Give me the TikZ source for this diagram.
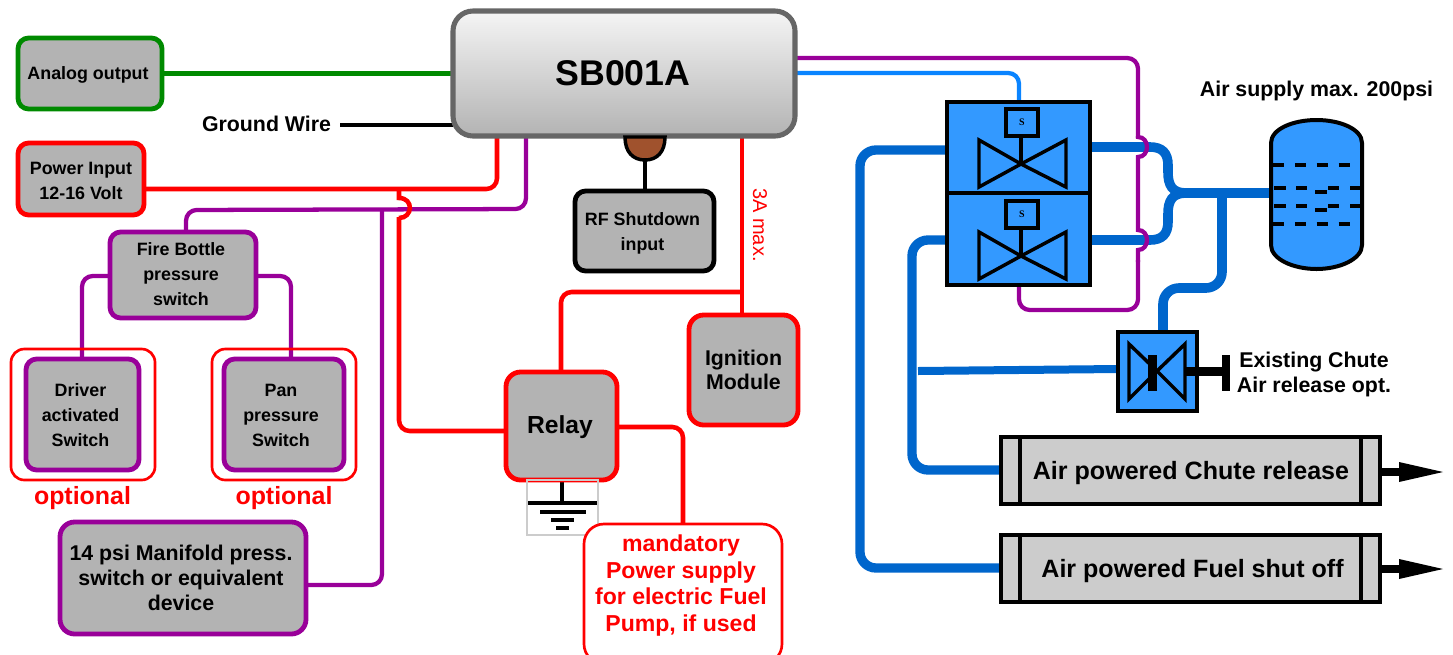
\documentclass[tikz,border=0pt]{standalone}
\usepackage{fontspec}
\setmainfont{Liberation Sans}
\newfontfamily\serifS{Liberation Serif}
\usetikzlibrary{backgrounds,arrows.meta,calc}
\definecolor{boxgray}{HTML}{B3B3B3}
\definecolor{lightgray2}{HTML}{CCCCCC}
\definecolor{wred}{HTML}{FF0000}
\definecolor{wpurple}{HTML}{990099}
\definecolor{wgreen}{HTML}{008A00}
\definecolor{airblue}{HTML}{0066CC}
\definecolor{sigblue}{HTML}{0A84FF}
\definecolor{valveblue}{HTML}{3399FF}
\definecolor{strokegray}{HTML}{666666}
\definecolor{brownc}{HTML}{A0522D}
\newcommand{\BX}[7]{\node[#2,minimum width={(#5-#3)*0.75pt},minimum height={(#6-#4)*0.75pt}] (#1) at ({(#3+#5)/2},{(#4+#6)/2}) {#7};}
\newcommand{\fsz}[2]{\fontsize{#1}{#2}\selectfont\bfseries}
\newcommand{\TX}[6]{\node[boxtext,font=\fsz{#4}{#5}] (#1-text) at ($(#1)+(#2,#3)$) {#6};}
\tikzset{
  base/.style={draw,inner sep=0pt,outer sep=0pt,align=center,text=black},
  boxtext/.style={inner sep=0pt,outer sep=0pt,align=center,text=black},
  gbox/.style={base,fill=boxgray,rounded corners=8pt,line width=3.6pt},
  redbox/.style={gbox,draw=wred},
  purplebox/.style={gbox,draw=wpurple},
  greenbox/.style={gbox,draw=wgreen},
  blackbox/.style={gbox,draw=black},
  thinred/.style={base,draw=wred,line width=2pt,rounded corners=10pt},
  mainbox/.style={base,draw=strokegray,line width=3.8pt,rounded corners=15pt,top color=white!96!black,bottom color=boxgray},
  valvebox/.style={base,fill=valveblue,draw=black,line width=3pt},
  sbox/.style={base,fill=valveblue,draw=black,line width=2.6pt,font=\serifS\fsz{7.5}{8}},
  cyl/.style={base,fill=lightgray2,draw=black,line width=2.6pt},
  lbl/.style={inner sep=0pt,outer sep=0pt,align=center,text=black,font=\fsz{16}{18.75}},
  redw/.style={draw=wred,line width=3.4pt,rounded corners=8pt},
  purw/.style={draw=wpurple,line width=3.2pt,rounded corners=8pt},
  grnw/.style={draw=wgreen,line width=3.4pt},
  blkw/.style={draw=black,line width=3.4pt},
  airw/.style={draw=airblue,line width=7.2pt,rounded corners=12pt},
  sigw/.style={draw=sigblue,line width=3.2pt,rounded corners=8pt},
  sym/.style={draw=black,line width=2.6pt,line join=miter},
}
\begin{document}
\begin{tikzpicture}[x=0.75pt,y=-0.75pt]
\clip (0,0) rectangle (1453,654);

% ---- boxes
\BX{sb}{mainbox}{453}{11}{795}{136}{}
\TX{sb}{-1}{0}{26.8}{30}{SB001A}
\BX{analog}{greenbox}{18}{38}{162}{109}{}
\TX{analog}{-2}{1}{13.4}{18.75}{Analog output}
\BX{power}{redbox}{18}{143}{144}{215}{}
\TX{power}{0}{2}{13.4}{18.75}{Power Input\\12-16 Volt}
\BX{fire}{purplebox}{110}{232}{256}{318}{}
\TX{fire}{-2}{-1}{13.4}{18.75}{Fire Bottle\\pressure\\switch}
\BX{drvout}{thinred}{11}{349}{155}{480}{}
\BX{panout}{thinred}{212}{349}{356}{480}{}
\BX{drv}{purplebox}{26}{359}{139}{470}{}
\TX{drv}{-2}{1}{13.4}{18.75}{Driver\\activated\\Switch}
\BX{pan}{purplebox}{224}{359}{344}{470}{}
\TX{pan}{-3}{1}{13.4}{18.75}{Pan\\pressure\\Switch}
\BX{mani}{purplebox,rounded corners=11pt}{60}{522}{306}{634}{}
\TX{mani}{-2}{0}{16}{18.75}{14 psi Manifold press.\\switch or equivalent\\device}
\BX{rf}{blackbox}{575}{191}{714}{271}{}
\TX{rf}{-2}{2}{13.4}{18.75}{RF Shutdown\\input}
\BX{relay}{redbox,rounded corners=11pt}{506}{372}{617}{480}{}
\TX{relay}{-1.5}{1}{18.5}{22}{Relay}
\BX{ign}{redbox,rounded corners=11pt}{689}{315}{798}{425}{}
\TX{ign}{0}{-0.5}{16}{18}{Ignition\\Module}
\BX{gnd}{base,draw=black!20,line width=.8pt}{527}{480}{598}{535}{}
\BX{pumpbox}{thinred,fill=white,rounded corners=15pt}{584}{524}{782}{664}{}
\node[boxtext,text=wred,font=\fsz{17.3}{20}] (pumptxt) at (681,585.5) {mandatory\\Power supply\\for electric Fuel\\Pump, if used};

\node[lbl,text=wred,font=\fsz{18.7}{22}] (opt1) at (82.5,498) {optional};
\node[lbl,text=wred,font=\fsz{18.7}{22}] (opt2) at (284,498) {optional};
\node[lbl,anchor=east] (gw) at (331,124) {Ground Wire};
\node[inner sep=0pt,rotate=-90,text=wred,font=\fontsize{15}{18}\selectfont] (amax) at (760,225) {3A max.};
\node[lbl] (airtxt) at (1316.5,91) {Air supply max. 200psi};
\node[lbl] (exist) at (1314,374.5) {Existing Chute\\Air release opt.};

% brown RF connector
\draw[draw=black,line width=2.6pt,fill=brownc] (625,137) .. controls (625,152) and (633,160) .. (645,160) .. controls (657,160) and (665,152) .. (665,137) -- cycle;
\coordinate (rfcap) at (645,160);

% valves
\BX{va}{valvebox}{947}{102}{1090}{193}{}
\BX{vb}{valvebox}{947}{193}{1090}{285}{}
\BX{sa}{sbox}{1006}{109}{1038}{136}{S}
\BX{sb2}{sbox}{1006}{201}{1038}{228}{S}
\draw[sym] (sa.south -| 1021,0) -- (1021,164);
\draw[sym] (1021,164) -- (979,140) -- (979,187) -- cycle;
\draw[sym] (1021,164) -- (1066,140) -- (1066,187) -- cycle;
\draw[sym] (sb2.south -| 1021,0) -- (1021,256);
\draw[sym] (1021,256) -- (979,232) -- (979,279) -- cycle;
\draw[sym] (1021,256) -- (1066,232) -- (1066,279) -- cycle;

\BX{vc}{valvebox,line width=2.6pt}{1118}{332}{1197}{411}{}
\draw[sym] (1157,371) -- (1129,344) -- (1129,399) -- cycle;
\draw[sym] (1157,371) -- (1185,344) -- (1185,399) -- cycle;
\fill[black] (1148,355) rectangle (1157,391);
\fill[black] (1185,367) rectangle (1222,376);
\fill[black] (1222,355) rectangle (1230,391);

% tank
\draw[draw=black,line width=3pt,fill=valveblue] (1271,143) .. controls (1271,129) and (1293,120) .. (1316.5,120) .. controls (1340,120) and (1362,129) .. (1362,143) -- (1362,245) .. controls (1362,259) and (1340,269) .. (1316.5,269) .. controls (1293,269) and (1271,259) .. (1271,245) -- cycle;
\coordinate (tank) at (1271,193);
\draw[draw=black,line width=2.4pt,dash pattern=on 8.2pt off 8.2pt,dash phase=0pt] (1273,165) -- (1361,165);
\draw[draw=black,line width=2.4pt,dash pattern=on 8.2pt off 8.2pt,dash phase=0pt] (1273,224) -- (1361,224);
\foreach \yy in {188,206}{
  \draw[draw=black,line width=2.4pt] (1274,\yy) -- (1286,\yy) (1296,\yy) -- (1307,\yy) (1328,\yy) -- (1339,\yy) (1350,\yy) -- (1361,\yy);
  \draw[draw=black,line width=2.4pt] (1315,\yy+4) -- (1327,\yy+4);
}

% cylinders
\BX{cha}{cyl}{1001}{437}{1380}{504}{}
\TX{cha}{0.5}{2.5}{18.8}{22}{Air powered Chute release}
\BX{fue}{cyl}{1001}{535}{1380}{602}{}
\TX{fue}{2}{2.5}{18.8}{22}{Air powered Fuel shut off}
\foreach \nn in {cha,fue}{
  \draw[draw=black,line width=2.6pt] (\nn.north west) ++(19,0) -- ++(0,67);
  \draw[draw=black,line width=2.6pt] (\nn.north east) ++(-19,0) -- ++(0,67);
}
\coordinate (chaEnd) at (1443,472);
\coordinate (fueEnd) at (1443,569);
\foreach \nn/\ee in {cha/chaEnd,fue/fueEnd}{
  \draw[draw=black,line width=5.4pt] (\nn.east |- \ee) -- ($(\ee)+(-30,0)$);
  \fill[black] (\ee) -- ++(-44,-10) -- ++(0,20) -- cycle;
}

% ---- connectors, behind the boxes
\begin{pgfonlayer}{background}
\draw[grnw] (analog.east) -- (sb.west |- analog.east);
\coordinate (gwEnd) at (340,125);
\draw[blkw] (gwEnd) -- (sb.west |- gwEnd);
\draw[blkw] (rfcap) -- (rf.north -| rfcap);
% purple
\coordinate (pa) at (526,209);
\coordinate (pb) at (186,210);
\draw[purw] (sb.south -| pa) -- (pa) -- (pb) -- (fire.north -| pb);
\draw[purw] (mani.east |- 0,585) -- (382,585) -- (382,210);
\draw[purw] (fire.west |- 0,276) -- (82,276) -- (drv.north -| 82,0);
\draw[purw] (fire.east |- 0,276) -- (291,276) -- (pan.north -| 291,0);
% red
\coordinate (ra) at (497,189);
\draw[redw] (power.east |- ra) -- (ra) -- (sb.south -| ra);
\draw[draw=wred,line width=3.4pt] (399,189) -- (399,198) .. controls (414,198) and (413,218) .. (399,218);
\draw[redw] (399,217) -- (399,431) -- (relay.west |- 0,431);
\coordinate (rb) at (742,292);
\draw[draw=wred,line width=3.4pt] (sb.south -| rb) -- (ign.north -| rb);
\draw[redw] (rb) -- (561,292) -- (relay.north -| 561,0);
\draw[redw] (relay.east |- 0,427) -- (683,427) -- (pumpbox.north -| 683,0);
% ground
\draw[draw=black,line width=2.4pt] (relay.south -| 562,0) -- (562,503);
\draw[draw=black,line width=2.4pt] (528,503) -- (598,503) (540,512) -- (586,512) (551,520) -- (574,520) (556,528) -- (569,528);
% air lines
\draw[sigw] (sb.east |- 0,73) -- (1019,73) -- (1019,102);
\draw[airw,line width=7pt] (va.west |- 0,150) -- (860,150) -- (860,568) -- (fue.west |- 0,568);
\draw[airw,line width=7pt] (vb.west |- 0,240) -- (912,240) -- (912,470) -- (cha.west |- 0,470);
\draw[airw,line width=6pt,rounded corners=0pt] (918,371) -- (vc.west |- 0,369);
\draw[airw,rounded corners=0pt] (va.east |- 0,147) -- (1150,147) .. controls (1162,147) and (1168,153) .. (1168,165) -- (1168,172) .. controls (1168,185) and (1172,193) .. (1186,193);
\draw[airw,rounded corners=0pt] (vb.east |- 0,240) -- (1150,240) .. controls (1162,240) and (1168,234) .. (1168,222) -- (1168,214) .. controls (1168,201) and (1172,193) .. (1186,193);
\draw[airw,rounded corners=0pt] (1180,193) -- (tank);
\draw[airw] (1222,193) -- (1222,288) -- (1163,288) -- (vc.north -| 1163,0);
% purple loop over the air lines
\coordinate (pt) at (1138,58);
\draw[draw=wpurple,line width=3.2pt,rounded corners=8pt] (sb.east |- pt) -- (pt) -- (1138,138) ;
\draw[draw=wpurple,line width=3.2pt] (1138,136) -- (1138,137) .. controls (1150,137) and (1150,157) .. (1138,157) -- (1138,230) .. controls (1150,230) and (1150,250) .. (1138,250) -- (1138,262);
\draw[purw] (1138,260) -- (1138,310) -- (1019,310) -- (vb.south -| 1019,0);
\end{pgfonlayer}
\end{tikzpicture}
\end{document}
